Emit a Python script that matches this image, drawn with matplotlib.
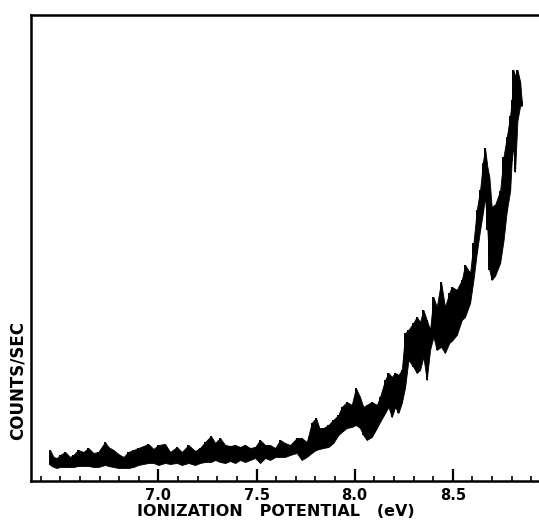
import matplotlib
matplotlib.use("Agg")
import matplotlib.pyplot as plt
from matplotlib.ticker import MultipleLocator, FixedLocator

# Ionization potential (eV) and the upper / lower edges of the noisy trace (counts/sec, arb.)
energy = [6.448, 6.466, 6.482, 6.499, 6.525, 6.550, 6.567, 6.592, 6.618, 6.643,
          6.669, 6.694, 6.728, 6.745, 6.771, 6.796, 6.822, 6.847, 6.873, 6.898,
          6.949, 6.975, 7.000, 7.034, 7.060, 7.094, 7.119, 7.153, 7.187, 7.212,
          7.238, 7.268, 7.289, 7.314, 7.340, 7.365, 7.391, 7.416, 7.442, 7.467,
          7.493, 7.518, 7.544, 7.569, 7.595, 7.620, 7.645, 7.671, 7.705, 7.730,
          7.756, 7.781, 7.803, 7.820, 7.841, 7.866, 7.891, 7.917, 7.934, 7.960,
          7.985, 8.006, 8.027, 8.044, 8.061, 8.087, 8.113, 8.129, 8.155, 8.172,
          8.189, 8.206, 8.223, 8.240, 8.257, 8.274, 8.299, 8.316, 8.333, 8.350,
          8.367, 8.384, 8.401, 8.418, 8.440, 8.460, 8.482, 8.495, 8.520, 8.546,
          8.562, 8.588, 8.605, 8.622, 8.639, 8.653, 8.664, 8.676, 8.686, 8.698,
          8.715, 8.741, 8.758, 8.775, 8.792, 8.800, 8.808, 8.817, 8.829, 8.843,
          8.851]
upper = [31, 24, 23, 26, 29, 24, 26, 31, 29, 33,
         28, 29, 39, 34, 31, 27, 24, 29, 31, 33,
         37, 32, 36, 37, 29, 34, 29, 36, 30, 33,
         39, 45, 38, 43, 36, 35, 36, 34, 36, 33,
         34, 41, 36, 36, 33, 41, 38, 36, 43, 43,
         39, 58, 63, 53, 53, 56, 61, 66, 74, 79,
         76, 93, 84, 74, 76, 79, 76, 84, 101, 108,
         104, 108, 106, 111, 148, 151, 158, 164, 159, 171,
         161, 151, 184, 174, 199, 174, 188, 194, 191, 201,
         216, 208, 238, 271, 291, 318, 333, 314, 304, 274,
         276, 290, 324, 344, 365, 381, 411, 405, 411, 399,
         380]
lower = [16, 14, 13, 14, 14, 14, 14, 15, 15, 15,
         14, 14, 16, 15, 14, 13, 13, 13, 14, 16,
         18, 18, 16, 18, 17, 18, 16, 18, 16, 18,
         19, 19, 21, 19, 18, 20, 18, 21, 19, 21,
         23, 18, 23, 21, 24, 24, 24, 26, 28, 21,
         24, 28, 31, 32, 33, 34, 38, 46, 49, 53,
         54, 56, 53, 46, 41, 44, 53, 59, 68, 74,
         64, 74, 68, 78, 94, 121, 114, 108, 111, 124,
         101, 131, 144, 131, 134, 128, 138, 140, 146, 161,
         164, 178, 201, 228, 251, 268, 284, 251, 211, 201,
         205, 218, 240, 270, 290, 320, 335, 309, 360, 375,
         375]

major_ticks = [7.0, 7.5, 8.0, 8.5]
major_labels = ["7.0", "7.5", "8.0", "8.5"]

W, H = 539, 522
fig = plt.figure(figsize=(W / 100, H / 100), dpi=100)
left, bottom, top = 31 / W, (H - 481) / H, (H - 14.7) / H
ax = fig.add_axes([left, bottom, 1 - left, top - bottom])

ax.fill_between(energy, lower, upper, color="black", linewidth=0.6)
ax.vlines(energy, lower, upper, color="black", linewidth=1.4)

ax.set_xlim(6.351, 8.939)
ax.set_ylim(0, 466)

for s in ["left", "top", "bottom"]:
    ax.spines[s].set_linewidth(1.8)
ax.spines["right"].set_visible(False)

ax.xaxis.set_major_locator(FixedLocator(major_ticks))
ax.set_xticklabels(major_labels, fontweight="bold")
ax.xaxis.set_minor_locator(MultipleLocator(0.1))
ax.tick_params(axis="x", which="major", direction="in", length=9, width=1.6,
               labelsize=10.5, pad=5)
ax.tick_params(axis="x", which="minor", direction="in", length=3.5, width=1.2)
ax.set_yticks([])
ax.tick_params(axis="x", top=False)

ax.set_xlabel("IONIZATION   POTENTIAL   (eV)", fontsize=11.5, fontweight="bold",
              va="top")
ax.xaxis.set_label_coords(0.481, -0.050)
ax.set_ylabel("COUNTS/SEC", fontsize=12, fontweight="bold")
ax.yaxis.set_label_coords(-0.008, 0.215)

fig.savefig("out.png", dpi=100)
